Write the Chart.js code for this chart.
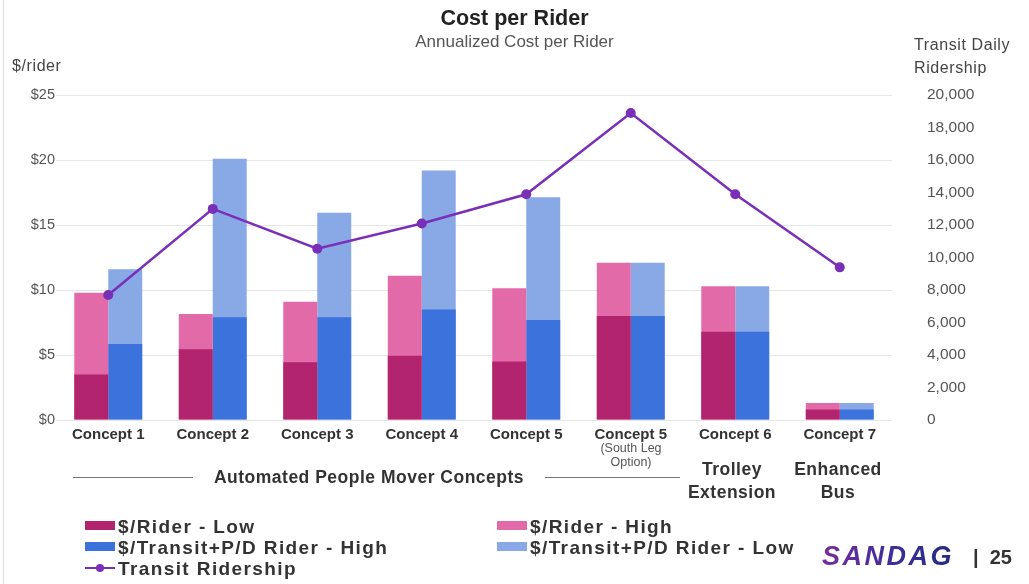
<!DOCTYPE html>
<html>
<head>
<meta charset="utf-8">
<title>Cost per Rider</title>
<script src="https://cdn.jsdelivr.net/npm/chart.js@4.4.1/dist/chart.umd.min.js"></script>
<style>
  body { margin: 0; background: #fff; font-family: "Liberation Sans", Arial, sans-serif; }
  #wrap { position: relative; width: 1029px; height: 584px; overflow: hidden; }
  #edge { position: absolute; left: 3px; top: 0; width: 1px; height: 584px; background: #ddd; }
  .abs { position: absolute; color: #333; white-space: nowrap; }
  .axisTitle { font-size: 16px; color: #444; line-height: 23px; letter-spacing: 0.6px; }
  .sub { font-size: 12.5px; color: #555; text-align: center; line-height: 14px; width: 90px; }
  .group { font-size: 17.5px; font-weight: bold; text-align: center; line-height: 23px; letter-spacing: 0.5px; }
  .rule { position: absolute; height: 1px; background: #777; }
  .leg { position: absolute; font-size: 19px; font-weight: bold; color: #333; letter-spacing: 1.4px; line-height: 21px; white-space: nowrap; }
  .sw { display: inline-block; width: 30px; height: 9px; margin-right: 3px; vertical-align: 3px; }
  .lineSw { display: inline-block; position: relative; width: 30px; height: 9px; margin-right: 3px; vertical-align: 3px; }
  .lineSw::before { content: ""; position: absolute; left: 0; right: 0; top: 4px; height: 2px; background: #7a2fb8; }
  .lineSw::after { content: ""; position: absolute; left: 11px; top: 1px; width: 8px; height: 8px; border-radius: 50%; background: #7a2fb8; }
  #logo { font-size: 27px; font-weight: 900; font-style: italic; letter-spacing: 2.5px;
          background: linear-gradient(90deg, #7a2a9c, #3b2f9a 55%, #232c7c); -webkit-background-clip: text; background-clip: text; color: transparent; }
  #page { font-size: 20px; font-weight: bold; color: #333; }
</style>
</head>
<body>
<div id="wrap">
  <canvas id="costChart" width="1029" height="584"></canvas>
  <div id="edge"></div>

  <div class="abs axisTitle" style="left:12px; top:54px;">$/rider</div>
  <div class="abs axisTitle" style="left:914px; top:33px;">Transit Daily<br>Ridership</div>

  <div class="abs sub" style="left:586px; top:441px;">(South Leg<br>Option)</div>

  <div class="rule" style="left:73px; top:477px; width:120px;"></div>
  <div class="abs group" style="left:202px; top:466px; width:334px;">Automated People Mover Concepts</div>
  <div class="rule" style="left:545px; top:477px; width:135px;"></div>
  <div class="abs group" style="left:677px; top:458px; width:110px;">Trolley<br>Extension</div>
  <div class="abs group" style="left:783px; top:458px; width:110px;">Enhanced<br>Bus</div>

  <div id="legend"></div>

  <div class="abs" id="logo" style="left:822px; top:541px;">SANDAG</div>
  <div class="abs" id="page" style="left:973px; top:546px;">|&nbsp; 25</div>
</div>

<script>
// Categories
const categories = ["Concept 1", "Concept 2", "Concept 3", "Concept 4", "Concept 5", "Concept 5", "Concept 6", "Concept 7"]

// $/rider (left axis)
const riderLow = [3.5, 5.45, 4.45, 4.95, 4.5, 8.0, 6.8, 0.8]
const riderHigh = [9.8, 8.15, 9.1, 11.1, 10.15, 12.1, 10.3, 1.3]
const transitHigh = [5.85, 7.9, 7.9, 8.5, 7.7, 8.0, 6.8, 0.8]
const transitLow = [11.6, 20.1, 15.95, 19.2, 17.15, 12.1, 10.3, 1.3]

// Transit daily ridership (right axis)
const ridership = [7700, 13000, 10550, 12100, 13900, 18900, 13900, 9400]

// Tick values
const costTicks = [0, 5, 10, 15, 20, 25]
const riderTicks = [0, 2000, 4000, 6000, 8000, 10000, 12000, 14000, 16000, 18000, 20000]

const colors = {
  riderLow: "#b3246f",
  riderHigh: "#e36aa9",
  transitHigh: "#3b72db",
  transitLow: "#89a8e6",
  line: "#7a2fb8",
}

const legendItems = [
  { label: "$/Rider - Low", color: colors.riderLow, x: 85, y: 516 },
  { label: "$/Rider - High", color: colors.riderHigh, x: 497, y: 516 },
  { label: "$/Transit+P/D Rider - High", color: colors.transitHigh, x: 85, y: 537 },
  { label: "$/Transit+P/D Rider - Low", color: colors.transitLow, x: 497, y: 537 },
  { label: "Transit Ridership", line: true, x: 85, y: 558 },
]

// Build the legend
const legendEl = document.getElementById("legend")
legendItems.forEach((item) => {
  const div = document.createElement("div")
  div.className = "leg"
  div.style.left = item.x + "px"
  div.style.top = item.y + "px"
  const sw = document.createElement("span")
  if (item.line) {
    sw.className = "lineSw"
  } else {
    sw.className = "sw"
    sw.style.background = item.color
  }
  div.appendChild(sw)
  div.appendChild(document.createTextNode(item.label))
  legendEl.appendChild(div)
})

const font = "'Liberation Sans', Arial, sans-serif"

const ctx = document.getElementById("costChart")
new Chart(ctx, {
  type: "bar",
  data: {
    labels: categories,
    datasets: [
      {
        type: "line",
        label: "Transit Ridership",
        data: ridership,
        yAxisID: "y1",
        borderColor: colors.line,
        backgroundColor: colors.line,
        borderWidth: 2.5,
        pointRadius: 5,
        pointBackgroundColor: colors.line,
        pointBorderWidth: 0,
      },
      { label: "$/Rider - Low", data: riderLow, stack: "rider", backgroundColor: colors.riderLow },
      { label: "$/Rider - High", data: riderHigh, stack: "rider", backgroundColor: colors.riderHigh },
      { label: "$/Transit+P/D Rider - High", data: transitHigh, stack: "transit", backgroundColor: colors.transitHigh },
      { label: "$/Transit+P/D Rider - Low", data: transitLow, stack: "transit", backgroundColor: colors.transitLow },
    ],
  },
  options: {
    responsive: false,
    animation: false,
    layout: { padding: 0 },
    datasets: {
      bar: { barPercentage: 1, categoryPercentage: 0.65, borderWidth: 0 },
    },
    plugins: {
      legend: { display: false },
      tooltip: { enabled: false },
      title: {
        display: true,
        text: "Cost per Rider",
        color: "#222",
        font: { family: font, size: 21.5, weight: "bold" },
        padding: { top: 6, bottom: 0 },
      },
      subtitle: {
        display: true,
        text: "Annualized Cost per Rider",
        color: "#555",
        font: { family: font, size: 17 },
        padding: { top: 0, bottom: 43 },
      },
    },
    scales: {
      x: {
        grid: { display: false, drawTicks: false },
        border: { display: false },
        ticks: {
          color: "#333",
          font: { family: font, size: 15, weight: "bold" },
          padding: 6,
          maxRotation: 0,
          autoSkip: false,
        },
        afterFit: (scale) => { scale.height = 164 },
      },
      y: {
        position: "left",
        stacked: false,
        min: 0,
        max: 25,
        afterBuildTicks: (scale) => { scale.ticks = costTicks.map((v) => ({ value: v })) },
        grid: { color: "#e6e6e6", drawTicks: false },
        border: { display: false },
        ticks: {
          color: "#555",
          font: { family: font, size: 14.5 },
          padding: 1,
          callback: (value) => "$" + value,
        },
        afterFit: (scale) => { scale.width = 56 },
      },
      y1: {
        position: "right",
        min: 0,
        max: 20000,
        afterBuildTicks: (scale) => { scale.ticks = riderTicks.map((v) => ({ value: v })) },
        grid: { display: false, drawTicks: false },
        border: { display: false },
        ticks: {
          color: "#555",
          font: { family: font, size: 15.5 },
          padding: 35,
          callback: (value) => value.toLocaleString("en-US"),
        },
        afterFit: (scale) => { scale.width = 137 },
      },
    },
  },
})
</script>
</body>
</html>
